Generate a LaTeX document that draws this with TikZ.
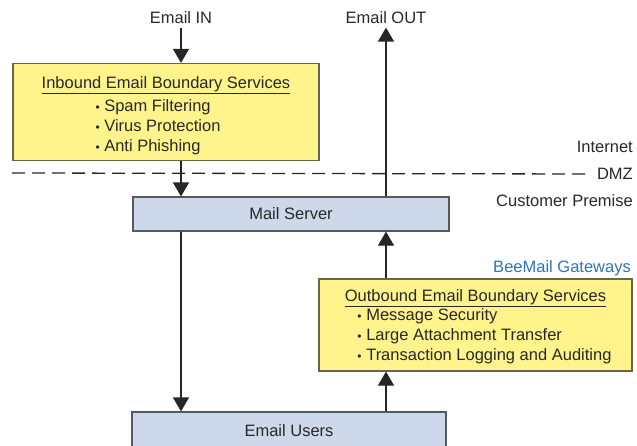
\documentclass[tikz,border=0pt]{standalone}
\usepackage{fontspec}
\setmainfont{Liberation Sans}
\usetikzlibrary{arrows.meta}
\definecolor{svcyellow}{RGB}{255,243,140}
\definecolor{svcedge}{RGB}{105,102,75}
\definecolor{hostblue}{RGB}{205,217,234}
\definecolor{hostedge}{RGB}{85,88,95}
\definecolor{gwblue}{RGB}{46,117,182}
\definecolor{txtgray}{RGB}{40,40,40}
\newcommand{\bul}{{\fontsize{12pt}{12pt}\selectfont•}\ }
\tikzset{
  svcbox/.style={draw=svcedge, fill=svcyellow, line width=1.2pt, align=center},
  hostbox/.style={draw=hostedge, fill=hostblue, line width=1.2pt, minimum height=34pt},
  zone/.style={anchor=east, inner sep=0pt},
  flow/.style={-{Triangle[width=16pt,length=14pt]}, line width=1.2pt, draw=black!85},
  border/.style={dash pattern=on 13pt off 7pt, line width=1.3pt, draw=black!85}
}
\begin{document}
\begin{tikzpicture}[x=1pt,y=-1pt,font=\fontsize{16.5pt}{20pt}\selectfont,text=txtgray]
      \useasboundingbox (0,0) rectangle (637,445);
      \node (in) at (181,18) {Email IN};
      \node (out) at (386,18) {Email OUT};
      \node[svcbox, minimum width=306pt, minimum height=88pt] (inb) at (166,112)
        {\rule{0pt}{22pt}\underline{Inbound Email Boundary Services}\\[2pt]
         \begin{tabular}{@{}l@{}}\bul Spam Filtering\\ \bul Virus Protection\\ \bul Anti Phishing\end{tabular}\hspace*{16pt}};
      \node[hostbox, minimum width=316pt] (mail) at (291,214) {Mail Server};
      \node[svcbox, minimum width=313pt, minimum height=92pt] (outb) at (475.5,325)
        {\rule{0pt}{18pt}\underline{Outbound Email Boundary Services}\\[-2pt]
         \hspace*{18pt}\begin{tabular}{@{}l@{}}\bul Message Security\\ \bul Large Attachment Transfer\\ \bul Transaction Logging and Auditing\end{tabular}};
      \node[hostbox, minimum width=314pt, minimum height=38pt] (users) at (289,431) {Email Users};
      % zones
      \node[zone] (inet) at (633,147) {Internet};
      \node[zone] (dmz) at (633,174) {DMZ};
      \node[zone] (prem) at (633,201) {Customer Premise};
      \node[zone, text=gwblue] (gw) at (631,268) {BeeMail Gateways};
      \coordinate (dmzl) at (12,173);
      \draw[border, shorten >=8pt] (dmzl) -- (dmz.west);
      % mail flow
      \draw[flow] (in) -- (inb.north -| in);
      \draw[flow] (inb.south -| in) -- (mail.north -| in);
      \draw[flow] (mail.south -| in) -- (users.north -| in);
      \draw[flow] (users.north -| out) -- (outb.south -| out);
      \draw[flow] (outb.north -| out) -- (mail.south -| out);
      \draw[flow] (mail.north -| out) -- (out);
\end{tikzpicture}
\end{document}
